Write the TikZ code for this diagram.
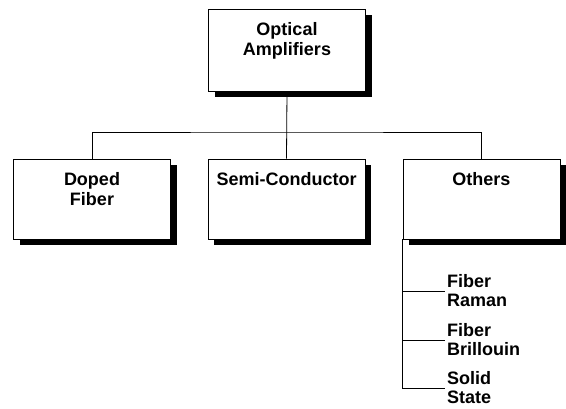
\documentclass[tikz,border=0pt]{standalone}
\usepackage{fontspec}
\setmainfont{Liberation Sans}
\usetikzlibrary{shadows}
\tikzset{
    tree-box/.style = {draw=black, fill=white, line width=0.8pt, rectangle, inner xsep=3.5pt, inner ysep=13pt,
        drop shadow={shadow xshift=6pt, shadow yshift=-6pt, fill=black, opacity=1}},
    tree-leaf/.style = {align=left, anchor=west, inner xsep=2pt, inner ysep=0.5pt, font=\fontsize{18}{19}\selectfont\bfseries},
    tree-line/.style = {line width=0.8pt},
}
% fixed-size text block, lines start at the top
\newcommand{\boxlines}[2]{\parbox[t][#1][t]{150pt}{\centering #2}}

\begin{document}
\begin{tikzpicture}[x=1pt, y=-1pt, font=\fontsize{18}{20.5}\selectfont\bfseries]
\useasboundingbox (0,0) rectangle (566,408);

\node [tree-box] (amps) at (287,50) {\boxlines{56pt}{Optical\\Amplifiers}};
\node [tree-box] (doped) at (92,199) {\boxlines{54pt}{Doped\\Fiber}};
\node [tree-box] (semi) at (286.5,199) {\boxlines{54pt}{Semi-Conductor}};
\node [tree-box] (others) at (481.5,199) {\boxlines{54pt}{Others}};

\coordinate (bus) at (287,132);
\draw [tree-line] (amps.south) -- (semi.north);
\draw [tree-line] (doped.north) |- (bus) -| (others.north);

% the "others" list hangs off the left edge
\node [tree-leaf] (raman) at (445,291) {Fiber\\Raman};
\node [tree-leaf] (brillouin) at (445,340) {Fiber\\Brillouin};
\node [tree-leaf] (solid) at (445,388) {Solid\\State};
\draw [tree-line] (others.south west) |- (raman.west);
\draw [tree-line] (others.south west) |- (brillouin.west);
\draw [tree-line] (others.south west) |- (solid.west);
\end{tikzpicture}
\end{document}
